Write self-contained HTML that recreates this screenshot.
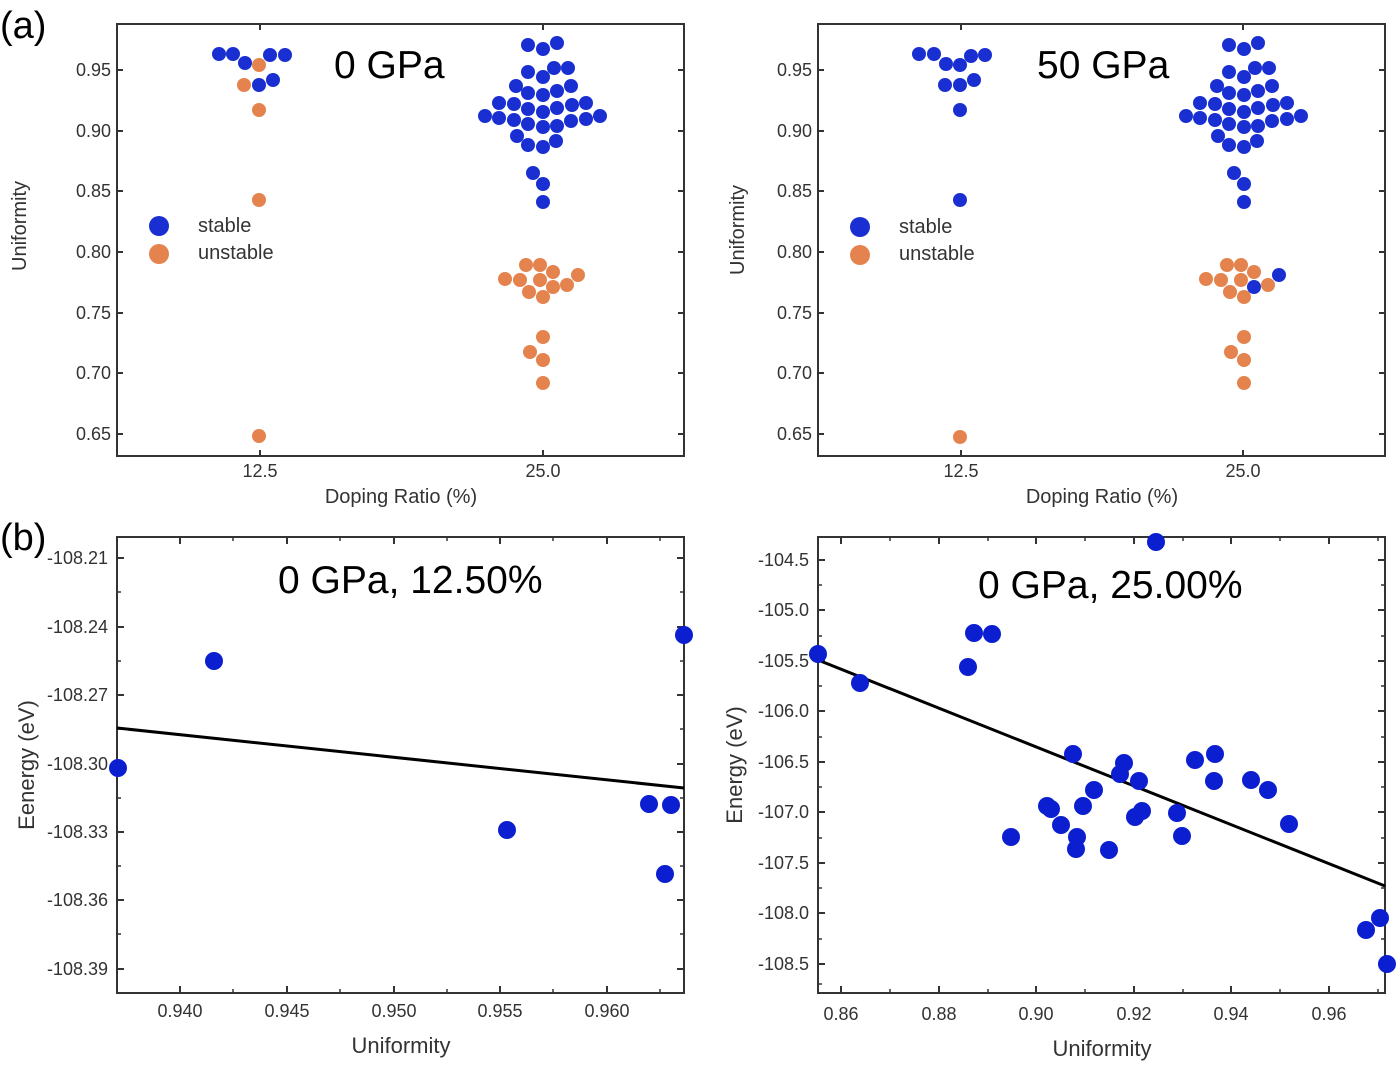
<!DOCTYPE html>
<html><head><meta charset="utf-8"><style>
body{margin:0;background:#fff}
svg{display:block;font-family:"Liberation Sans",Arial,sans-serif}
</style></head><body>
<svg width="1400" height="1065" viewBox="0 0 1400 1065" xmlns="http://www.w3.org/2000/svg">
<rect width="1400" height="1065" fill="#fff"/>
<g fill="none" stroke="#333" stroke-width="2">
<rect x="117" y="24" width="567" height="432"/>
<rect x="818" y="24" width="567" height="432"/>
<rect x="117" y="537" width="567" height="456"/>
<rect x="818" y="537" width="567" height="456"/>
</g>
<text x="0" y="38" font-size="38">(a)</text>
<text x="0" y="550" font-size="38">(b)</text>
<g stroke="#333" stroke-width="2">
<path d="M117 70h6M117 131h6M117 191h6M117 252h6M117 313h6M117 373h6M117 434h6M684 70h-6M684 131h-6M684 191h-6M684 252h-6M684 313h-6M684 373h-6M684 434h-6M260 456v-6M543 456v-6M260 24v6M543 24v6"/>
<path d="M818 70h6M818 131h6M818 191h6M818 252h6M818 313h6M818 373h6M818 434h6M1385 70h-6M1385 131h-6M1385 191h-6M1385 252h-6M1385 313h-6M1385 373h-6M1385 434h-6M961 456v-6M1243 456v-6M961 24v6M1243 24v6"/>
</g>
<g font-size="18" fill="#333" text-anchor="end">
<text x="111" y="76">0.95</text><text x="111" y="137">0.90</text><text x="111" y="197">0.85</text><text x="111" y="258">0.80</text><text x="111" y="319">0.75</text><text x="111" y="379">0.70</text><text x="111" y="440">0.65</text>
<text x="812" y="76">0.95</text><text x="812" y="137">0.90</text><text x="812" y="197">0.85</text><text x="812" y="258">0.80</text><text x="812" y="319">0.75</text><text x="812" y="379">0.70</text><text x="812" y="440">0.65</text>
</g>
<g font-size="18" fill="#333" text-anchor="middle">
<text x="260" y="477">12.5</text><text x="543" y="477">25.0</text>
<text x="961" y="477">12.5</text><text x="1243" y="477">25.0</text>
</g>
<g font-size="20" fill="#333" text-anchor="middle">
<text x="401" y="503">Doping Ratio (%)</text>
<text x="1102" y="503">Doping Ratio (%)</text>
<text transform="translate(26,226) rotate(-90)">Uniformity</text>
<text transform="translate(744,230) rotate(-90)">Uniformity</text>
</g>
<text x="334" y="78" font-size="39">0 GPa</text>
<text x="1037" y="78" font-size="39">50 GPa</text>
<circle cx="159" cy="226" r="10" fill="#1a2fd1"/><circle cx="159" cy="254" r="10" fill="#e5834f"/>
<text x="198" y="232" font-size="20" fill="#333">stable</text><text x="198" y="259" font-size="20" fill="#333">unstable</text>
<circle cx="860" cy="227" r="10" fill="#1a2fd1"/><circle cx="860" cy="255" r="10" fill="#e5834f"/>
<text x="899" y="233" font-size="20" fill="#333">stable</text><text x="899" y="260" font-size="20" fill="#333">unstable</text>
<g id="bc" fill="#1a2fd1">
<circle cx="528" cy="45" r="7"/><circle cx="543" cy="49" r="7"/><circle cx="557" cy="43" r="7"/>
<circle cx="528" cy="72" r="7"/><circle cx="543" cy="77" r="7"/><circle cx="554" cy="68" r="7"/><circle cx="568" cy="68" r="7"/>
<circle cx="516" cy="86" r="7"/><circle cx="528" cy="93" r="7"/><circle cx="543" cy="95" r="7"/><circle cx="557" cy="91" r="7"/><circle cx="571" cy="86" r="7"/>
<circle cx="499" cy="103" r="7"/><circle cx="514" cy="104" r="7"/><circle cx="528" cy="109" r="7"/><circle cx="543" cy="112" r="7"/><circle cx="557" cy="108" r="7"/><circle cx="572" cy="105" r="7"/><circle cx="586" cy="103" r="7"/>
<circle cx="485" cy="116" r="7"/><circle cx="499" cy="118" r="7"/><circle cx="514" cy="120" r="7"/><circle cx="528" cy="124" r="7"/><circle cx="543" cy="127" r="7"/><circle cx="557" cy="126" r="7"/><circle cx="571" cy="121" r="7"/><circle cx="586" cy="119" r="7"/><circle cx="600" cy="116" r="7"/>
<circle cx="517" cy="136" r="7"/><circle cx="528" cy="145" r="7"/><circle cx="543" cy="147" r="7"/><circle cx="556" cy="141" r="7"/>
<circle cx="533" cy="173" r="7"/><circle cx="543" cy="184" r="7"/><circle cx="543" cy="202" r="7"/>
</g>
<use href="#bc" x="701" y="0"/>
<g fill="#e5834f">
<circle cx="526" cy="265" r="7"/><circle cx="540" cy="265" r="7"/><circle cx="553" cy="272" r="7"/><circle cx="578" cy="275" r="7"/>
<circle cx="505" cy="279" r="7"/><circle cx="520" cy="280" r="7"/><circle cx="540" cy="280" r="7"/><circle cx="567" cy="285" r="7"/>
<circle cx="529" cy="292" r="7"/><circle cx="553" cy="287" r="7"/><circle cx="543" cy="297" r="7"/>
<circle cx="543" cy="337" r="7"/><circle cx="530" cy="352" r="7"/><circle cx="543" cy="360" r="7"/><circle cx="543" cy="383" r="7"/>
<circle cx="1227" cy="265" r="7"/><circle cx="1241" cy="265" r="7"/><circle cx="1254" cy="272" r="7"/>
<circle cx="1206" cy="279" r="7"/><circle cx="1221" cy="280" r="7"/><circle cx="1241" cy="280" r="7"/><circle cx="1268" cy="285" r="7"/>
<circle cx="1230" cy="292" r="7"/><circle cx="1244" cy="297" r="7"/>
<circle cx="1244" cy="337" r="7"/><circle cx="1231" cy="352" r="7"/><circle cx="1244" cy="360" r="7"/><circle cx="1244" cy="383" r="7"/>
<circle cx="259" cy="65" r="7"/><circle cx="244" cy="85" r="7"/><circle cx="259" cy="110" r="7"/><circle cx="259" cy="200" r="7"/><circle cx="259" cy="436" r="7"/>
<circle cx="960" cy="437" r="7"/>
</g>
<g fill="#1a2fd1">
<circle cx="1254" cy="287" r="7"/><circle cx="1279" cy="275" r="7"/>
<circle cx="219" cy="54" r="7"/><circle cx="233" cy="54" r="7"/><circle cx="245" cy="63" r="7"/><circle cx="270" cy="55" r="7"/><circle cx="285" cy="55" r="7"/><circle cx="259" cy="85" r="7"/><circle cx="273" cy="80" r="7"/>
<circle cx="919" cy="54" r="7"/><circle cx="934" cy="54" r="7"/><circle cx="946" cy="64" r="7"/><circle cx="971" cy="56" r="7"/><circle cx="985" cy="55" r="7"/><circle cx="960" cy="65" r="7"/><circle cx="945" cy="85" r="7"/><circle cx="960" cy="85" r="7"/><circle cx="974" cy="80" r="7"/><circle cx="960" cy="110" r="7"/><circle cx="960" cy="200" r="7"/>
</g>
<g stroke="#333" stroke-width="2">
<path d="M117 558h7M117 627h7M117 695h7M117 764h7M117 832h7M117 900h7M117 969h7M684 558h-7M684 627h-7M684 695h-7M684 764h-7M684 832h-7M684 900h-7M684 969h-7"/>
<path d="M180 993v-7M287 993v-7M394 993v-7M500 993v-7M607 993v-7M180 537v7M287 537v7M394 537v7M500 537v7M607 537v7"/>
<path d="M818 560h7M818 610h7M818 661h7M818 711h7M818 762h7M818 812h7M818 863h7M818 913h7M818 964h7M1385 560h-7M1385 610h-7M1385 661h-7M1385 711h-7M1385 762h-7M1385 812h-7M1385 863h-7M1385 913h-7M1385 964h-7"/>
<path d="M841 993v-7M939 993v-7M1036 993v-7M1134 993v-7M1231 993v-7M1329 993v-7M841 537v7M939 537v7M1036 537v7M1134 537v7M1231 537v7M1329 537v7"/>
</g>
<g stroke="#333" stroke-width="1.5">
<path d="M117 592h4M117 661h4M117 729h4M117 798h4M117 866h4M117 934h4M684 592h-4M684 661h-4M684 729h-4M684 798h-4M684 866h-4M684 934h-4"/>
<path d="M233 993v-4M340 993v-4M447 993v-4M553 993v-4M660 993v-4M233 537v4M340 537v4M447 537v4M553 537v4M660 537v4"/>
<path d="M818 585h4M818 636h4M818 686h4M818 737h4M818 787h4M818 838h4M818 888h4M818 939h4M818 984h4M1385 585h-4M1385 636h-4M1385 686h-4M1385 737h-4M1385 787h-4M1385 838h-4M1385 888h-4M1385 939h-4"/>
<path d="M890 993v-4M988 993v-4M1085 993v-4M1183 993v-4M1280 993v-4M1378 993v-4M890 537v4M988 537v4M1085 537v4M1183 537v4M1280 537v4M1378 537v4"/>
</g>
<g font-size="18" fill="#333" text-anchor="end">
<text x="108" y="564">-108.21</text><text x="108" y="633">-108.24</text><text x="108" y="701">-108.27</text><text x="108" y="770">-108.30</text><text x="108" y="838">-108.33</text><text x="108" y="906">-108.36</text><text x="108" y="975">-108.39</text>
<text x="809" y="566">-104.5</text><text x="809" y="616">-105.0</text><text x="809" y="667">-105.5</text><text x="809" y="717">-106.0</text><text x="809" y="768">-106.5</text><text x="809" y="818">-107.0</text><text x="809" y="869">-107.5</text><text x="809" y="919">-108.0</text><text x="809" y="970">-108.5</text>
</g>
<g font-size="18" fill="#333" text-anchor="middle">
<text x="180" y="1017">0.940</text><text x="287" y="1017">0.945</text><text x="394" y="1017">0.950</text><text x="500" y="1017">0.955</text><text x="607" y="1017">0.960</text>
<text x="841" y="1020">0.86</text><text x="939" y="1020">0.88</text><text x="1036" y="1020">0.90</text><text x="1134" y="1020">0.92</text><text x="1231" y="1020">0.94</text><text x="1329" y="1020">0.96</text>
</g>
<g font-size="22" fill="#333" text-anchor="middle">
<text x="401" y="1053">Uniformity</text><text x="1102" y="1056">Uniformity</text>
<text transform="translate(34,765) rotate(-90)">Eenergy (eV)</text>
<text transform="translate(742,765) rotate(-90)">Energy (eV)</text>
</g>
<text x="278" y="593" font-size="39">0 GPa, 12.50%</text>
<text x="978" y="598" font-size="39">0 GPa, 25.00%</text>
<path d="M117 728L684 788" stroke="#000" stroke-width="3"/>
<path d="M818 660L1385 886" stroke="#000" stroke-width="3"/>
<g fill="#0b1fd0">
<circle cx="118" cy="768" r="9"/><circle cx="214" cy="661" r="9"/><circle cx="507" cy="830" r="9"/><circle cx="649" cy="804" r="9"/><circle cx="671" cy="805" r="9"/><circle cx="665" cy="874" r="9"/><circle cx="684" cy="635" r="9"/>
<circle cx="818" cy="654" r="9"/><circle cx="860" cy="683" r="9"/><circle cx="968" cy="667" r="9"/><circle cx="974" cy="633" r="9"/><circle cx="992" cy="634" r="9"/><circle cx="1156" cy="542" r="9"/><circle cx="1011" cy="837" r="9"/><circle cx="1073" cy="754" r="9"/><circle cx="1047" cy="806" r="9"/><circle cx="1051" cy="809" r="9"/><circle cx="1061" cy="825" r="9"/><circle cx="1083" cy="806" r="9"/><circle cx="1077" cy="837" r="9"/><circle cx="1076" cy="849" r="9"/><circle cx="1094" cy="790" r="9"/><circle cx="1109" cy="850" r="9"/><circle cx="1124" cy="763" r="9"/><circle cx="1120" cy="774" r="9"/><circle cx="1139" cy="781" r="9"/><circle cx="1135" cy="817" r="9"/><circle cx="1142" cy="811" r="9"/><circle cx="1177" cy="813" r="9"/><circle cx="1182" cy="836" r="9"/><circle cx="1195" cy="760" r="9"/><circle cx="1215" cy="754" r="9"/><circle cx="1214" cy="781" r="9"/><circle cx="1251" cy="780" r="9"/><circle cx="1268" cy="790" r="9"/><circle cx="1289" cy="824" r="9"/><circle cx="1366" cy="930" r="9"/><circle cx="1380" cy="918" r="9"/><circle cx="1387" cy="964" r="9"/>
</g>
</svg>
</body></html>
